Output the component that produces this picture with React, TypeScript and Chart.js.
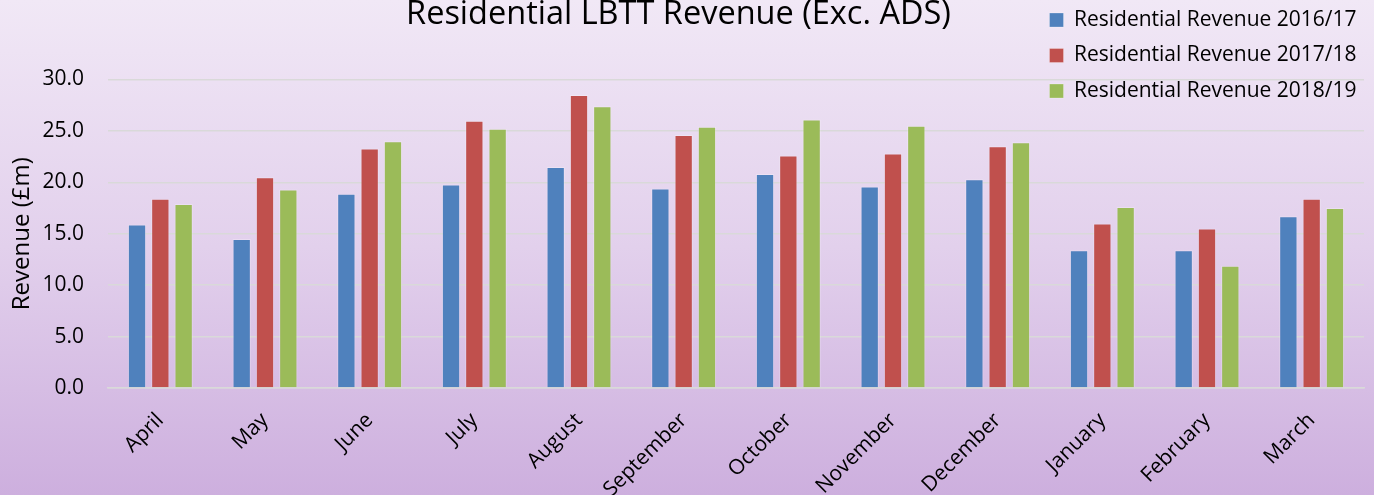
import React, { useEffect, useRef } from "react";
import { Chart, registerables } from "chart.js";

Chart.register(...registerables);

const months = [
  "April", "May", "June", "July", "August", "September",
  "October", "November", "December", "January", "February", "March",
];
const revenue201617 = [15.9, 14.5, 18.9, 19.8, 21.5, 19.4, 20.8, 19.6, 20.3, 13.4, 13.4, 16.7];
const revenue201718 = [18.4, 20.5, 23.3, 26.0, 28.5, 24.6, 22.6, 22.8, 23.5, 16.0, 15.5, 18.4];
const revenue201819 = [17.9, 19.3, 24.0, 25.2, 27.4, 25.4, 26.1, 25.5, 23.9, 17.6, 11.9, 17.5];
const seriesLabels = [
  "Residential Revenue 2016/17",
  "Residential Revenue 2017/18",
  "Residential Revenue 2018/19",
];
const yTicks = [0, 5, 10, 15, 20, 25, 30];

const FONT = "'Open Sans', 'Noto Sans', sans-serif";

const placeBoxes = {
  id: "placeBoxes",
  afterLayout(chart: any) {
    const lg = chart.legend;
    if (lg) {
      lg.left = 1035;
      lg.right = 1374;
      lg.top = -5;
      lg.bottom = 495;
      lg.width = lg.right - lg.left;
      lg.height = lg.bottom - lg.top;
    }
    const t = chart.titleBlock;
    if (t) {
      const c = (t.left + t.right) / 2;
      const shift = 678.5 - c;
      t.left += shift;
      t.right += shift;
    }
  },
};

export default function App() {
  const ref = useRef<HTMLCanvasElement | null>(null);

  useEffect(() => {
    if (!ref.current) return;
    const chart = new Chart(ref.current, {
      type: "bar",
      data: {
        labels: months,
        datasets: [
          { label: seriesLabels[0], data: revenue201617, backgroundColor: "#4F81BD" },
          { label: seriesLabels[1], data: revenue201718, backgroundColor: "#C0504D" },
          { label: seriesLabels[2], data: revenue201819, backgroundColor: "#9BBB59" },
        ].map((d) => ({
          ...d,
          borderColor: "rgba(255,255,255,0.25)",
          borderWidth: 1,
          categoryPercentage: 0.668,
          barPercentage: 0.785,
        })),
      },
      options: {
        responsive: false,
        animation: false,
        layout: { padding: { left: 0, right: 10, top: 0, bottom: 0 } },
        plugins: {
          title: {
            display: true,
            text: "Residential LBTT Revenue (Exc. ADS)",
            color: "#000",
            font: { family: FONT, size: 32.5, weight: "normal" },
            padding: { top: -4.5, bottom: 45 },
          },
          legend: {
            position: "chartArea",
            align: "start",
            labels: {
              boxWidth: 14,
              boxHeight: 14,
              padding: 14.5,
              color: "#000",
              font: { family: FONT, size: 21 },
            },
          },
          tooltip: { enabled: false },
        },
        scales: {
          x: {
            grid: { display: false, drawTicks: false },
            border: { display: true, color: "#D9D9D9", width: 1.5 },
            ticks: {
              color: "#000",
              font: { family: FONT, size: 21 },
              minRotation: 45,
              maxRotation: 45,
              padding: 20,
              autoSkip: false,
            },
            afterFit: (s: any) => {
              s.height = 107;
            },
          },
          y: {
            min: 0,
            max: 30,
            afterBuildTicks: (s: any) => {
              s.ticks = yTicks.map((v) => ({ value: v }));
            },
            grid: { color: "#D9D9D9", lineWidth: 1.5, drawTicks: false },
            border: { display: false },
            ticks: {
              color: "#000",
              font: { family: FONT, size: 21 },
              padding: 24,
              callback: (v: any) => Number(v).toFixed(1),
            },
            title: {
              display: true,
              text: "Revenue (£m)",
              color: "#000",
              font: { family: FONT, size: 24 },
              padding: { top: 8, bottom: 0 },
            },
            afterFit: (s: any) => {
              s.width = 108;
            },
          },
        },
      },
      plugins: [placeBoxes],
    });
    return () => chart.destroy();
  }, []);

  return (
    <div
      style={{
        position: "absolute",
        left: 0,
        top: 0,
        width: 1374,
        height: 495,
        background: "linear-gradient(to bottom, #F1E8F6 0%, #E2D0EC 50%, #CDAFDE 100%)",
        overflow: "hidden",
      }}
    >
      <canvas ref={ref} width={1374} height={495} style={{ display: "block" }} />
    </div>
  );
}
